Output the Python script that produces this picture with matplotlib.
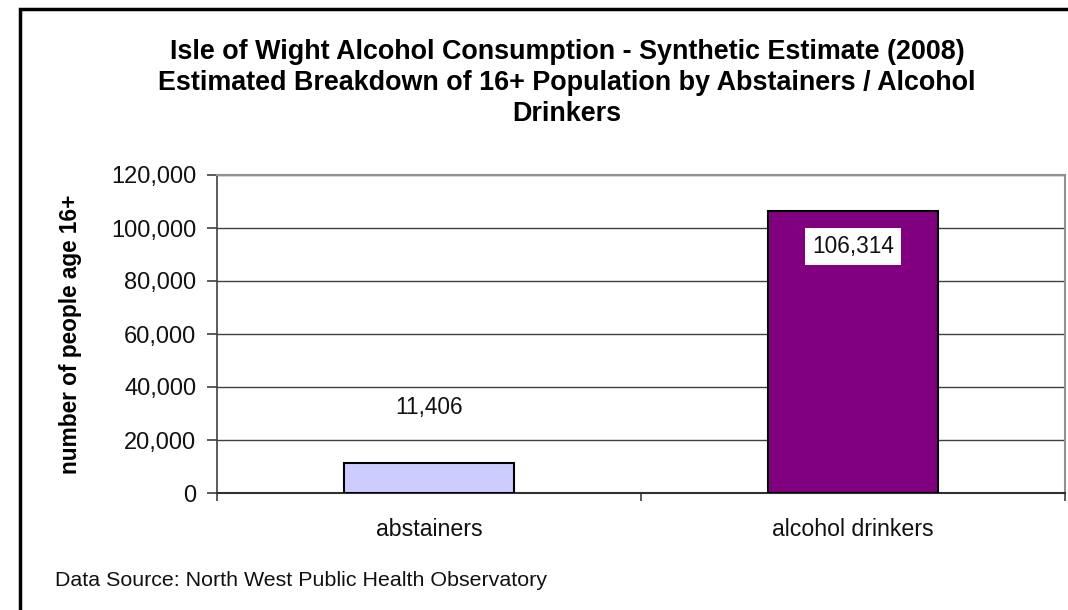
import matplotlib.pyplot as plt
from matplotlib.patches import Rectangle
from matplotlib.ticker import FuncFormatter


categories = ["abstainers", "alcohol drinkers"]
people = [11406, 106314]
bar_colors = ["#CCCCFF", "#800080"]
y_ticks = [0, 20000, 40000, 60000, 80000, 100000, 120000]

title = ("Isle of Wight Alcohol Consumption - Synthetic Estimate (2008)\n"
         "Estimated Breakdown of 16+ Population by Abstainers / Alcohol\n"
         "Drinkers")

plt.rcParams["font.family"] = ["Liberation Sans", "DejaVu Sans"]

# Figure setup:

fig = plt.figure(figsize=(10.68, 6.10), dpi=100)
ax = fig.add_axes([217 / 1068, 117 / 610, 848 / 1068, 318 / 610])

# Outer chart frame:

fig.patches.append(Rectangle(
    (20 / 1068, -0.1), 1.2, (610 - 9) / 610 + 0.1,
    transform=fig.transFigure, fill=False, edgecolor="black",
    linewidth=2.5
))

# Bars:

x = range(len(categories))
ax.bar(x, people, width=0.4, color=bar_colors, edgecolor="black",
       linewidth=1.5, zorder=3)

ax.set_xlim(-0.5, 1.5)
ax.set_ylim(0, 120000)
ax.set_yticks(y_ticks)
ax.yaxis.set_major_formatter(FuncFormatter(lambda v, p: f"{int(v):,}"))
ax.grid(axis="y", color="#404040", linewidth=1, zorder=1)
ax.set_axisbelow(True)

# Category labels with separator ticks between them:

ax.set_xticks([-0.5, 0.5, 1.5])
ax.set_xticklabels([])
ax.tick_params(axis="x", length=6, color="#404040", width=1.2)
ax.tick_params(axis="y", length=7, color="#404040", width=1.2,
               labelsize=17, pad=8, labelcolor="#111111")
for index, name in enumerate(categories):
    ax.text(index, -0.115, name, transform=ax.get_xaxis_transform(),
            ha="center", va="center", fontsize=16.7, color="#111111")

for side in ("top", "right"):
    ax.spines[side].set_color("#909090")
    ax.spines[side].set_linewidth(1.5)
ax.spines["left"].set_color("#404040")
ax.spines["left"].set_linewidth(1.2)
ax.spines["bottom"].set_color("#303030")
ax.spines["bottom"].set_linewidth(1.5)

# Value labels:

ax.annotate(f"{people[0]:,}", (0, people[0]), xytext=(0, 55),
            textcoords="offset pixels", ha="center", va="center",
            fontsize=16.3, color="#111111")
ax.annotate(f"{people[1]:,}", (1, people[1]), xytext=(0, -35),
            textcoords="offset pixels", ha="center", va="center",
            fontsize=16.3, color="#111111", zorder=5,
            bbox=dict(boxstyle="square,pad=0.3", facecolor="white",
                      edgecolor="none"))

# Titles and notes:

ax.set_ylabel("number of people age 16+", fontsize=16.3, fontweight="bold",
              labelpad=21)
fig.text(567 / 1068, 1 - 83 / 610, title, ha="center", va="center",
         fontsize=19.4, fontweight="bold", linespacing=1.26)
fig.text(55 / 1068, 1 - 580 / 610,
         "Data Source: North West Public Health Observatory",
         ha="left", va="center", fontsize=15.4, color="#111111")

fig.savefig("out.png", dpi=100)
